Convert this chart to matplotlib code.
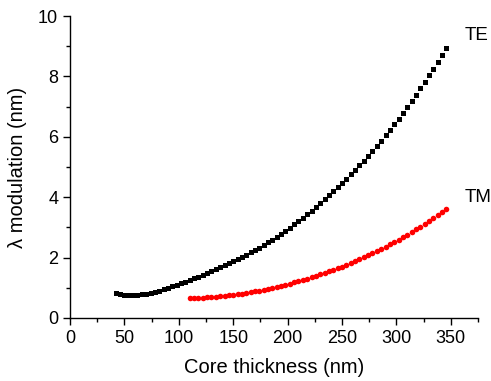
import matplotlib
matplotlib.use("Agg")
import matplotlib.pyplot as plt
from matplotlib.ticker import MultipleLocator

plt.rcParams['font.family'] = ['Liberation Sans', 'DejaVu Sans']

# TE mode: core thickness (nm) vs wavelength modulation (nm)
te_thickness = [42, 46, 50, 54, 58, 62, 66, 70, 74, 78, 82, 86, 90, 94, 98,
                102, 106, 110, 114, 118, 122, 126, 130, 134, 138, 142, 146, 150,
                154, 158, 162, 166, 170, 174, 178, 182, 186, 190, 194, 198, 202,
                206, 210, 214, 218, 222, 226, 230, 234, 238, 242, 246, 250, 254,
                258, 262, 266, 270, 274, 278, 282, 286, 290, 294, 298, 302, 306,
                310, 314, 318, 322, 326, 330, 334, 338, 342, 346]
te_modulation = [0.84, 0.80, 0.775, 0.76, 0.763, 0.772, 0.788, 0.809, 0.837, 0.871,
                 0.910, 0.953, 0.997, 1.044, 1.093, 1.145, 1.198, 1.252, 1.308,
                 1.365, 1.424, 1.483, 1.545, 1.608, 1.672, 1.738, 1.806, 1.876,
                 1.947, 2.019, 2.094, 2.170, 2.249, 2.331, 2.417, 2.505, 2.597,
                 2.691, 2.789, 2.890, 2.994, 3.101, 3.211, 3.323, 3.439, 3.558,
                 3.679, 3.803, 3.931, 4.061, 4.194, 4.330, 4.469, 4.611, 4.756,
                 4.905, 5.056, 5.212, 5.371, 5.534, 5.701, 5.872, 6.046, 6.224,
                 6.41, 6.60, 6.79, 6.99, 7.19, 7.40, 7.61, 7.82, 8.04, 8.26,
                 8.49, 8.72, 8.95]

# TM mode
tm_thickness = [110, 114, 118, 122, 126, 130, 134, 138, 142, 146, 150, 154, 158,
                162, 166, 170, 174, 178, 182, 186, 190, 194, 198, 202, 206, 210,
                214, 218, 222, 226, 230, 234, 238, 242, 246, 250, 254, 258, 262,
                266, 270, 274, 278, 282, 286, 290, 294, 298, 302, 306, 310, 314,
                318, 322, 326, 330, 334, 338, 342, 346]
tm_modulation = [0.66, 0.665, 0.671, 0.678, 0.687, 0.698, 0.709, 0.722, 0.737,
                 0.753, 0.77, 0.789, 0.809, 0.831, 0.855, 0.88, 0.907, 0.935,
                 0.965, 0.997, 1.03, 1.065, 1.101, 1.138, 1.177, 1.218, 1.259,
                 1.302, 1.347, 1.393, 1.44, 1.489, 1.540, 1.592, 1.646, 1.703,
                 1.760, 1.820, 1.882, 1.945, 2.01, 2.077, 2.146, 2.216, 2.288,
                 2.363, 2.438, 2.516, 2.596, 2.677, 2.76, 2.845, 2.932, 3.021,
                 3.112, 3.204, 3.299, 3.396, 3.494, 3.595]

fig = plt.figure(figsize=(4.91, 3.81), dpi=100)
ax = fig.add_axes([0.1426, 0.1654, 0.8309, 0.7926])

ax.plot(te_thickness, te_modulation, linestyle='none', marker='s',
        markersize=3.6, color='black', markeredgewidth=0)
ax.plot(tm_thickness, tm_modulation, linestyle='none', marker='o',
        markersize=4.0, color='red', markeredgewidth=0)

ax.text(363, 9.35, "TE", fontsize=13.5, va='center', ha='left', clip_on=False)
ax.text(363, 4.0, "TM", fontsize=13.5, va='center', ha='left', clip_on=False)

ax.set_xlim(0, 375)
ax.set_ylim(0, 10)
ax.xaxis.set_major_locator(MultipleLocator(50))
ax.xaxis.set_minor_locator(MultipleLocator(25))
ax.yaxis.set_major_locator(MultipleLocator(2))
ax.yaxis.set_minor_locator(MultipleLocator(1))
ax.set_xticks(range(0, 351, 50))

ax.spines['top'].set_visible(False)
ax.spines['right'].set_visible(False)
for side in ['left', 'bottom']:
    ax.spines[side].set_linewidth(1.0)

ax.tick_params(which='major', direction='out', length=5, width=1, labelsize=13)
ax.tick_params(which='minor', direction='out', length=3, width=1)

ax.set_xlabel("Core thickness (nm)", fontsize=14.5, labelpad=8)
ax.set_ylabel("\u03bb modulation (nm)", fontsize=14.5, labelpad=8)

fig.savefig("out.png", dpi=100)
